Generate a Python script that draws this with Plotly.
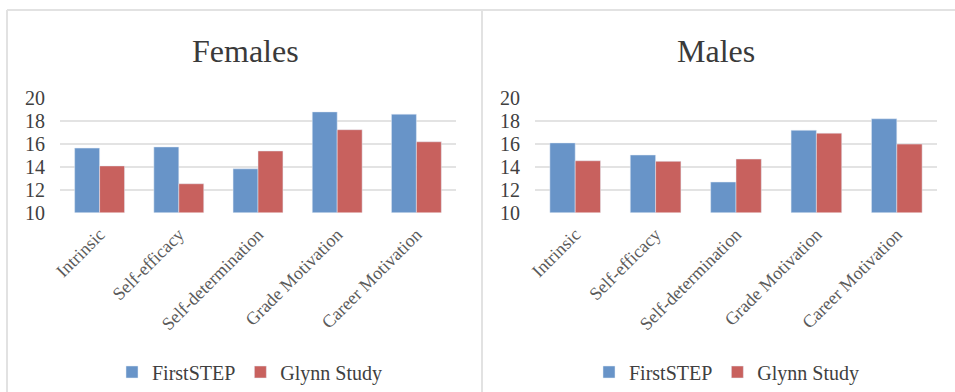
import plotly.graph_objects as go

categories = ["Intrinsic", "Self-efficacy", "Self-determination", "Grade Motivation", "Career Motivation"]
female_firststep = [15.6, 15.7, 13.8, 18.75, 18.55]
female_glynn = [14.05, 12.5, 15.35, 17.2, 16.15]
male_firststep = [16.05, 15.0, 12.65, 17.15, 18.15]
male_glynn = [14.5, 14.45, 14.65, 16.9, 15.95]
y_ticks = [10, 12, 14, 16, 18, 20]

BLUE = "#6894C8"
RED = "#C8615E"
FONT = "Liberation Serif"
W, H = 955, 392

def px(x):
    return x / W

def py(y):
    return 1 - y / H

fig = go.Figure()

fig.add_trace(go.Bar(x=categories, y=female_firststep, name="FirstSTEP", marker_color=BLUE,
                     xaxis="x", yaxis="y", legend="legend"))
fig.add_trace(go.Bar(x=categories, y=female_glynn, name="Glynn Study", marker_color=RED,
                     xaxis="x", yaxis="y", legend="legend"))
fig.add_trace(go.Bar(x=categories, y=male_firststep, name="FirstSTEP", marker_color=BLUE,
                     xaxis="x2", yaxis="y2", legend="legend2"))
fig.add_trace(go.Bar(x=categories, y=male_glynn, name="Glynn Study", marker_color=RED,
                     xaxis="x2", yaxis="y2", legend="legend2"))

ydom = [py(212.5), py(97.5)]
yaxis_common = dict(range=[10, 20], tickvals=y_ticks, showgrid=True, gridcolor="#E3E3E3", gridwidth=2,
                    zeroline=False, showline=False, ticks="", automargin=False, ticklabelstandoff=14,
                    tickfont=dict(family=FONT, size=20, color="#404040"), domain=ydom, fixedrange=True)
xaxis_common = dict(tickangle=-45, showline=False, ticks="", showgrid=False, automargin=False,
                    ticklabelstandoff=7,
                    tickfont=dict(family=FONT, size=18, color="#5A5A5A"))

legend_common = dict(orientation="h", xanchor="center", yanchor="middle",
                     font=dict(family=FONT, size=20, color="#404040"),
                     bgcolor="rgba(0,0,0,0)", traceorder="normal", itemwidth=30)

fig.update_layout(
    width=W, height=H,
    margin=dict(l=0, r=0, t=0, b=0, autoexpand=False),
    paper_bgcolor="white", plot_bgcolor="white",
    barmode="group", bargap=0.37, bargroupgap=0,
    xaxis=dict(domain=[px(60), px(456)], anchor="y", **xaxis_common),
    xaxis2=dict(domain=[px(535), px(937)], anchor="y2", **xaxis_common),
    yaxis=dict(anchor="x", **yaxis_common),
    yaxis2=dict(anchor="x2", **yaxis_common),
    legend=dict(x=px(250), y=py(372), **legend_common),
    legend2=dict(x=px(727), y=py(372), **legend_common),
    annotations=[
        dict(text="Females", x=px(245), y=py(51), xref="paper", yref="paper", showarrow=False,
             xanchor="center", yanchor="middle", font=dict(family=FONT, size=32, color="#3A3A3A")),
        dict(text="Males", x=px(716), y=py(51), xref="paper", yref="paper", showarrow=False,
             xanchor="center", yanchor="middle", font=dict(family=FONT, size=32, color="#3A3A3A")),
    ],
    shapes=[
        dict(type="line", xref="paper", yref="paper", x0=px(7), x1=1, y0=py(10), y1=py(10),
             line=dict(color="#E2E2E2", width=2)),
        dict(type="line", xref="paper", yref="paper", x0=px(7), x1=px(7), y0=py(10), y1=0,
             line=dict(color="#E2E2E2", width=2)),
        dict(type="line", xref="paper", yref="paper", x0=px(482), x1=px(482), y0=py(10), y1=0,
             line=dict(color="#E2E2E2", width=2)),
    ],
    showlegend=True,
)

fig.write_html("out.html")
